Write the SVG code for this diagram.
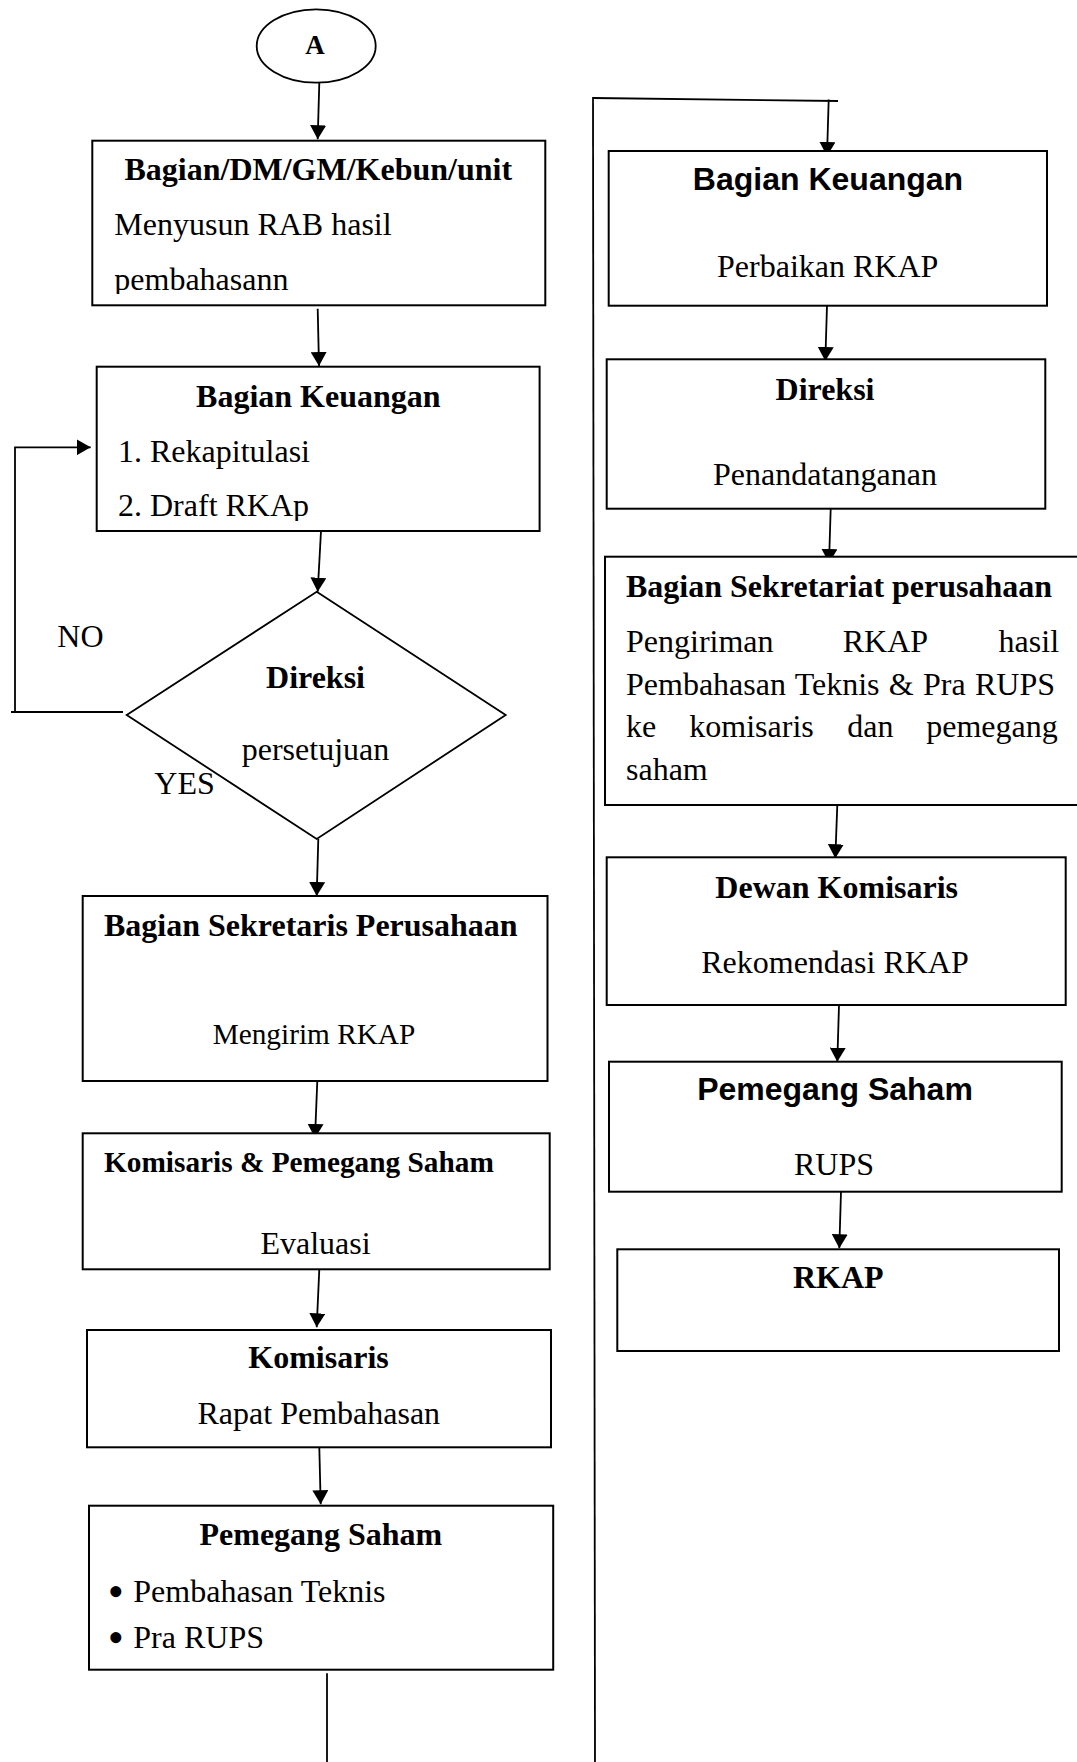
<svg xmlns="http://www.w3.org/2000/svg" width="1077" height="1762" viewBox="0 0 1077 1762">
<style>
.box{fill:#fff;stroke:#000;stroke-width:2}
.ln{fill:none;stroke:#000;stroke-width:1.8}
.t{font-family:"Liberation Serif","Times New Roman",serif;font-size:32px;fill:#000}
.b{font-weight:bold}
.s{font-family:"Liberation Sans",Arial,sans-serif;font-size:32px;font-weight:bold;fill:#000}
.c{text-anchor:middle}
.bul{font-size:46px}
</style>
<defs>
<marker id="ah" viewBox="0 0 14 16" refX="14" refY="8" markerWidth="14" markerHeight="16" markerUnits="userSpaceOnUse" orient="auto">
<path d="M0,0 L14,8 L0,16 z" fill="#000"/>
</marker>
<clipPath id="clip1"><rect x="92" y="141" width="453" height="153"/></clipPath>
<clipPath id="clip2"><rect x="96" y="367" width="443" height="154"/></clipPath>
</defs>
<rect width="1077" height="1762" fill="#fff"/>

<g id="connectors">
<line class="ln" x1="319.3" y1="82.7" x2="317.7" y2="139.3" marker-end="url(#ah)"/>
<line class="ln" x1="317.7" y1="308.7" x2="319" y2="366" marker-end="url(#ah)"/>
<line class="ln" x1="321" y1="531" x2="317.7" y2="591.7" marker-end="url(#ah)"/>
<line class="ln" x1="318.3" y1="839" x2="316.7" y2="896" marker-end="url(#ah)"/>
<line class="ln" x1="317.3" y1="1081" x2="315" y2="1138" marker-end="url(#ah)"/>
<line class="ln" x1="319.3" y1="1269.3" x2="316.7" y2="1327.3" marker-end="url(#ah)"/>
<line class="ln" x1="319.3" y1="1447.3" x2="320.7" y2="1504.3" marker-end="url(#ah)"/>
<line class="ln" x1="327" y1="1673.3" x2="327" y2="1762"/>
<line class="ln" x1="11" y1="712" x2="123" y2="712"/>
<polyline class="ln" points="15,712 15,447.3 90.7,447.3" marker-end="url(#ah)"/>
<line class="ln" x1="593" y1="97" x2="595" y2="1762"/>
<line class="ln" x1="593" y1="98" x2="838" y2="101"/>
<line class="ln" x1="828.7" y1="99.5" x2="827" y2="156" marker-end="url(#ah)"/>
<line class="ln" x1="827" y1="305.7" x2="825.3" y2="361" marker-end="url(#ah)"/>
<line class="ln" x1="830.7" y1="508.7" x2="829" y2="563" marker-end="url(#ah)"/>
<line class="ln" x1="837.3" y1="805" x2="835.3" y2="858.3" marker-end="url(#ah)"/>
<line class="ln" x1="839" y1="1005" x2="837.3" y2="1061.7" marker-end="url(#ah)"/>
<line class="ln" x1="841" y1="1191.7" x2="839.3" y2="1248.3" marker-end="url(#ah)"/>
</g>

<g id="node-a">
<ellipse cx="316.2" cy="46" rx="59.5" ry="36.7" fill="#fff" stroke="#000" stroke-width="1.8"/>
<text class="t b c" x="315" y="54.3" style="font-size:27px">A</text>
</g>

<g id="node-bagian-unit">
<rect class="box" x="92.3" y="140.7" width="453" height="164.6"/>
<text class="t b c" x="318.3" y="180">Bagian/DM/GM/Kebun/unit</text>
<g clip-path="url(#clip1)">
<text class="t" x="114.3" y="235">Menyusun RAB hasil</text>
<text class="t" x="114.3" y="290">pembahasann</text>
</g>
</g>

<g id="node-keuangan-1">
<rect class="box" x="96.7" y="366.7" width="442.9" height="164.3"/>
<text class="t b c" x="318.3" y="407.3">Bagian Keuangan</text>
<g clip-path="url(#clip2)">
<text class="t" x="118" y="461.5">1. Rekapitulasi</text>
<text class="t" x="118" y="515.5">2. Draft RKAp</text>
</g>
</g>

<g id="node-direksi-decision">
<polygon points="316.7,591.7 505.7,715 316.7,839 126.7,715" fill="#fff" stroke="#000" stroke-width="1.8"/>
<text class="t b c" x="315.5" y="687.7">Direksi</text>
<text class="t c" x="315.5" y="760">persetujuan</text>
</g>

<g id="label-no"><text class="t" x="57.3" y="647.3">NO</text></g>
<g id="label-yes"><text class="t" x="154.3" y="794.3">YES</text></g>

<g id="node-sekretaris">
<rect class="box" x="82.7" y="896" width="464.8" height="185"/>
<text class="t b" x="104" y="936">Bagian Sekretaris Perusahaan</text>
<text class="t c" x="314" y="1044.3" style="font-size:29.3px">Mengirim RKAP</text>
</g>

<g id="node-komisaris-pemegang">
<rect class="box" x="82.7" y="1133.3" width="467" height="136"/>
<text class="t b" x="104" y="1171.7" style="font-size:29.3px">Komisaris &amp; Pemegang Saham</text>
<text class="t c" x="315.5" y="1254.3">Evaluasi</text>
</g>

<g id="node-komisaris">
<rect class="box" x="87" y="1330" width="464" height="117.3"/>
<text class="t b c" x="318.5" y="1368.3">Komisaris</text>
<text class="t c" x="318.8" y="1424">Rapat Pembahasan</text>
</g>

<g id="node-pemegang-1">
<rect class="box" x="89" y="1505.7" width="464.2" height="164"/>
<text class="t b c" x="320.8" y="1545">Pemegang Saham</text>
<text class="t c bul" x="115.7" y="1607.1">•</text>
<text class="t" x="133.3" y="1601.7">Pembahasan Teknis</text>
<text class="t c bul" x="115.7" y="1653.1">•</text>
<text class="t" x="133.3" y="1647.7">Pra RUPS</text>
</g>

<g id="node-keuangan-2">
<rect class="box" x="608.7" y="151" width="438.3" height="154.7"/>
<text class="s c" x="828" y="190">Bagian Keuangan</text>
<text class="t c" x="827.7" y="276.7">Perbaikan RKAP</text>
</g>

<g id="node-direksi-2">
<rect class="box" x="606.7" y="359.3" width="438.6" height="149.4"/>
<text class="t b c" x="825" y="400">Direksi</text>
<text class="t c" x="825" y="485">Penandatanganan</text>
</g>

<g id="node-sekretariat">
<rect class="box" x="605" y="556.7" width="475" height="248.3"/>
<text class="t b" x="626" y="596.7">Bagian Sekretariat perusahaan</text>
<text class="t" y="652"><tspan x="626">Pengiriman</tspan><tspan x="842.7">RKAP</tspan><tspan x="998.6">hasil</tspan></text>
<text class="t" x="626" y="694.5" style="word-spacing:1.3px">Pembahasan Teknis &amp; Pra RUPS</text>
<text class="t" y="737"><tspan x="626">ke</tspan><tspan x="689.3">komisaris</tspan><tspan x="847.3">dan</tspan><tspan x="926.2">pemegang</tspan></text>
<text class="t" x="626" y="779.5">saham</text>
</g>

<g id="node-dewan">
<rect class="box" x="606.7" y="857.3" width="459" height="147.7"/>
<text class="t b c" x="836.7" y="898.3">Dewan Komisaris</text>
<text class="t c" x="835" y="973.3">Rekomendasi RKAP</text>
</g>

<g id="node-pemegang-2">
<rect class="box" x="609" y="1061.7" width="452.7" height="130"/>
<text class="s c" x="835" y="1100">Pemegang Saham</text>
<text class="t c" x="834" y="1175">RUPS</text>
</g>

<g id="node-rkap">
<rect class="box" x="617.3" y="1249.3" width="441.7" height="101.7"/>
<text class="t b c" x="838.3" y="1288.3">RKAP</text>
</g>
</svg>
